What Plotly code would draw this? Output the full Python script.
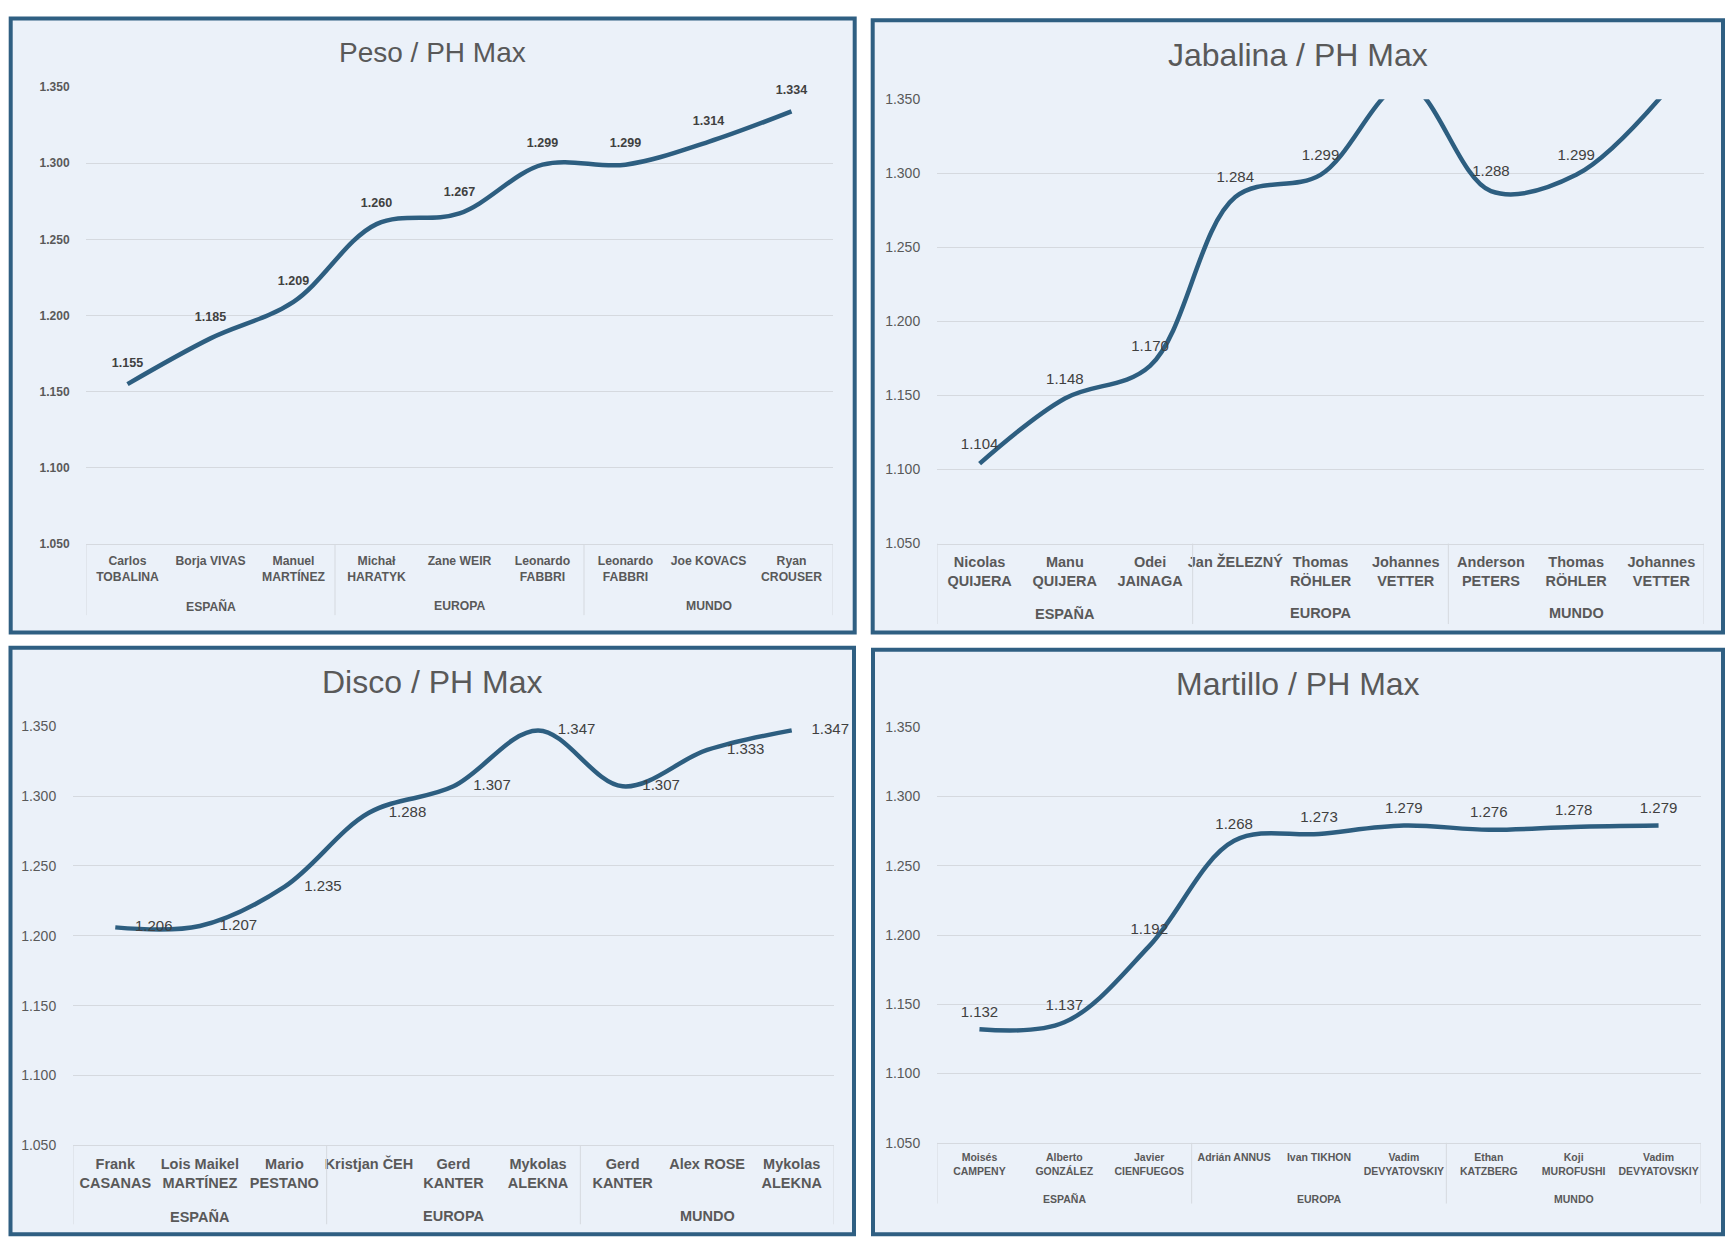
import plotly.graph_objects as go

W, H = 1734, 1254

groups = ["ESPAÑA"] * 3 + ["EUROPA"] * 3 + ["MUNDO"] * 3

peso_names = ["Carlos<br>TOBALINA", "Borja VIVAS", "Manuel<br>MARTÍNEZ",
              "Michał<br>HARATYK", "Zane WEIR", "Leonardo<br>FABBRI",
              "Leonardo<br>FABBRI", "Joe KOVACS", "Ryan<br>CROUSER"]
peso_vals = [1.155, 1.185, 1.209, 1.260, 1.267, 1.299, 1.299, 1.314, 1.334]

jab_names = ["Nicolas<br>QUIJERA", "Manu<br>QUIJERA", "Odei<br>JAINAGA",
             "Jan ŽELEZNÝ", "Thomas<br>RÖHLER", "Johannes<br>VETTER",
             "Anderson<br>PETERS", "Thomas<br>RÖHLER", "Johannes<br>VETTER"]
jab_vals = [1.104, 1.148, 1.170, 1.284, 1.299, 1.360, 1.288, 1.299, 1.352]

disco_names = ["Frank<br>CASANAS", "Lois Maikel<br>MARTÍNEZ", "Mario<br>PESTANO",
               "Kristjan ČEH", "Gerd<br>KANTER", "Mykolas<br>ALEKNA",
               "Gerd<br>KANTER", "Alex ROSE", "Mykolas<br>ALEKNA"]
disco_vals = [1.206, 1.207, 1.235, 1.288, 1.307, 1.347, 1.307, 1.333, 1.347]

mart_names = ["Moisés<br>CAMPENY", "Alberto<br>GONZÁLEZ", "Javier<br>CIENFUEGOS",
              "Adrián ANNUS", "Ivan TIKHON", "Vadim<br>DEVYATOVSKIY",
              "Ethan<br>KATZBERG", "Koji<br>MUROFUSHI", "Vadim<br>DEVYATOVSKIY"]
mart_vals = [1.132, 1.137, 1.192, 1.268, 1.273, 1.279, 1.276, 1.278, 1.279]

titles = ["Peso / PH Max", "Jabalina / PH Max", "Disco / PH Max", "Martillo / PH Max"]
y_ticks = [1.05, 1.10, 1.15, 1.20, 1.25, 1.30, 1.35]
Y_MIN, Y_MAX = 1.05, 1.35

FONT = "Liberation Sans, Arial, sans-serif"
TXT = "#595959"
LBL = "#404040"
LINE = "#2D5E80"
GRID = "#D5D9DF"
BG = "#EBF1F9"
BORDER = "#2F5F82"

# panel boxes (pixels): x0, y0, x1, y1
panels = [(10.7, 10.7, 854.7, 632.5), (872.7, 12.5, 1723, 632.5),
          (10.5, 648, 854, 1242), (873, 650, 1723, 1242)]
# plot areas (pixels): left, top, right, bottom
areas = [(86, 80, 833, 543), (937, 92.5, 1704, 542.5),
         (73, 727.5, 834, 1152), (937, 728.5, 1701, 1149.5)]
# title centre x, y, size
title_pos = [(432, 45, 28), (1298, 48, 32), (432, 683, 32), (1298, 685, 32)]
# group label centre y, divider bottom y
group_y = [606, 613, 1224, 1206]
divider_bottom = [615, 624, 1232, 1211]

ytick_font = [dict(size=12, weight="bold"), dict(size=14), dict(size=14), dict(size=14)]
xtick_size = [12.2, 14.5, 14.5, 10.5]
label_font = [dict(size=12.5, weight="bold"), dict(size=15), dict(size=15), dict(size=15)]
label_pos = ["top center", "top center", "middle right", "top center"]
marker_size = [21, 16, 30, 12]
clip = [False, True, False, False]

data = [(peso_names, peso_vals), (jab_names, jab_vals),
        (disco_names, disco_vals), (mart_names, mart_vals)]

fig = go.Figure()
shapes = []
annotations = []
layout = {}

for i, ((names, vals), title) in enumerate(zip(data, titles)):
    n = "" if i == 0 else str(i + 1)
    xs = list(range(len(names)))
    # like the source chart, points outside the axis range carry no label
    texts = [f"{v:.3f}" if Y_MIN <= v <= Y_MAX else "" for v in vals]
    fig.add_trace(go.Scatter(
        x=xs, y=vals,
        mode="lines+markers+text",
        line=dict(color=LINE, width=4.5, shape="spline", smoothing=1.0),
        marker=dict(size=marker_size[i], color="rgba(0,0,0,0)"),
        text=texts,
        textposition=label_pos[i],
        textfont=dict(family=FONT, color=LBL, **label_font[i]),
        cliponaxis=clip[i],
        xaxis="x" + n, yaxis="y" + n,
        showlegend=False, hoverinfo="skip",
    ))
    l, t, r, b = areas[i]
    layout["xaxis" + n] = dict(
        domain=[l / W, r / W], anchor="y" + n,
        range=[-0.5, len(names) - 0.5],
        tickvals=xs, ticktext=[f"<b>{s}</b>" for s in names],
        showgrid=False, zeroline=False, showline=True, linecolor=GRID, linewidth=1,
        ticks="outside", ticklen=5, tickcolor="rgba(0,0,0,0)",
        tickfont=dict(family=FONT, color=TXT, size=xtick_size[i]),
        fixedrange=True,
    )
    layout["yaxis" + n] = dict(
        domain=[1 - b / H, 1 - t / H], anchor="x" + n,
        range=[Y_MIN, Y_MAX], tickvals=y_ticks, tickformat=".3f",
        showgrid=True, gridcolor=GRID, gridwidth=1, zeroline=False, showline=False,
        ticks="outside", ticklen=13, tickcolor="rgba(0,0,0,0)",
        tickfont=dict(family=FONT, color=TXT, **ytick_font[i]),
        fixedrange=True,
    )
    # group labels and dividers on the category axis
    start = 0
    bounds = [-0.5]
    for g in dict.fromkeys(groups):
        cnt = groups.count(g)
        annotations.append(dict(
            text=f"<b>{g}</b>", xref="x" + n, yref="paper",
            x=start + (cnt - 1) / 2, y=1 - group_y[i] / H,
            xanchor="center", yanchor="middle", showarrow=False,
            font=dict(family=FONT, color=TXT, size=xtick_size[i])))
        start += cnt
        bounds.append(start - 0.5)
    for xb in bounds:
        shapes.append(dict(type="line", xref="x" + n, yref="paper",
                           x0=xb, x1=xb, y0=1 - b / H, y1=1 - divider_bottom[i] / H,
                           line=dict(color=GRID, width=1)))
    x0, y0, x1, y1 = panels[i]
    shapes.append(dict(type="rect", xref="paper", yref="paper",
                       x0=x0 / W, x1=x1 / W, y0=1 - y1 / H, y1=1 - y0 / H,
                       fillcolor=BG, line=dict(color=BORDER, width=4), layer="below"))
    tx, ty, ts = title_pos[i]
    annotations.append(dict(text=title, xref="paper", yref="paper",
                            x=tx / W, y=1 - ty / H, xanchor="center", yanchor="middle",
                            showarrow=False, font=dict(family=FONT, size=ts, color=TXT)))

fig.update_layout(
    width=W, height=H, margin=dict(l=0, r=0, t=0, b=0),
    paper_bgcolor="white", plot_bgcolor="rgba(0,0,0,0)",
    shapes=shapes, annotations=annotations, **layout,
)

fig.write_html("out.html", config={"displayModeBar": False},
               post_script="document.body.style.margin='0';")
